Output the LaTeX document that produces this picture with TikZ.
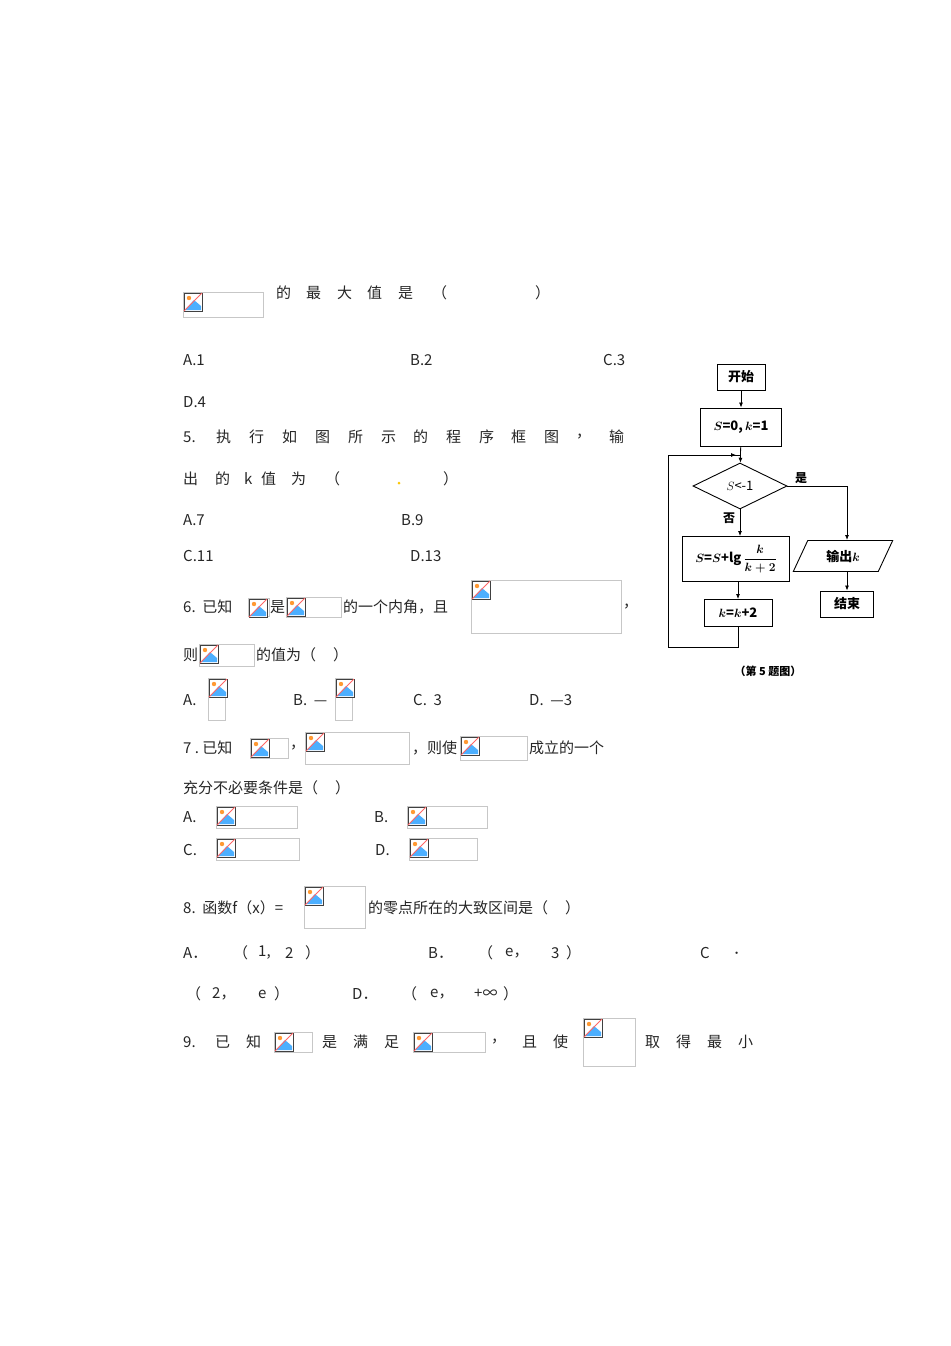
\documentclass[tikz,border=0pt]{standalone}
\usepackage{amsmath}
\usepackage{bm}
\usepackage{fontspec}
\setmainfont{Noto Sans CJK SC}
\usetikzlibrary{shapes.geometric,arrows.meta}
\newcount\tcnt
\newcommand\tx[3]{\global\advance\tcnt by 1 \node[txt] (t\the\tcnt) at (#1,#2) {#3};}
\newcommand\ph[4]{%
  \draw[black!22] (#1,#2) rectangle (#3,#4);
  \fill[white] (#1+1,#2+1) rectangle (#1+19,#2+19);
  \fill[blue!45!cyan!70] (#1+2,#2+18) -- (#1+11,#2+8) -- (#1+18,#2+14) -- (#1+18,#2+18) -- cycle;
  \fill[orange!80] (#1+6,#2+6) circle (2.2);
  \draw[black!75,line width=0.8] (#1+1,#2+1) rectangle (#1+19,#2+19);
  \draw[red!60,line width=1] (#1+1,#2+19) -- (#1+19,#2+1);}
\tikzset{txt/.style={anchor=west,inner sep=0,font=\fontsize{15pt}{17pt}\selectfont,text=black!85},
  box/.style={draw,line width=0.9pt,minimum height=26pt,font=\fontsize{13pt}{15pt}\selectfont\bfseries},
  ar/.style={-{Latex[length=5pt,width=4pt]},line width=0.8pt}}
\begin{document}
\begin{tikzpicture}[x=1pt,y=-1pt]
\useasboundingbox (0,0) rectangle (950,1346);
% Q4 tail
\ph{183}{292}{263}{317}
\foreach \c/\x in {的/276,最/306,大/337,值/367,是/398,（/432,）/535}{\tx{\x}{293}{\c}}
\tx{183}{360}{A.1}\tx{410}{360}{B.2}\tx{603}{360}{C.3}
\tx{183}{402}{D.4}
% Q5
\foreach \c/\x in {5./183,执/216,行/249,如/282,图/315,所/348,示/381,的/413,程/446,序/479,框/511,图/544,，/576,输/609}
  {\tx{\x}{437}{\c}}
\foreach \c/\x in {出/183,的/215,k/244,值/261,为/291,（/325,）/443}
  {\tx{\x}{479}{\c}}
\fill[yellow!60!orange] (399,483) circle (1.5);
\tx{183}{520}{A.7}\tx{401}{520}{B.9}
\tx{183}{556}{C.11}\tx{410}{556}{D.13}
% Q6
\tx{183}{607}{6.\ \ 已知}\ph{248}{598}{269}{616}\tx{270}{607}{是}\ph{286}{597}{341}{617}
\tx{343}{607}{的一个内角，且}\ph{471}{580}{621}{633}\tx{623}{607}{，}
\tx{183}{655}{则}\ph{199}{644}{254}{666}\tx{256}{655}{的值为（\ \ \ \ \ ）}
\tx{183}{700}{A.}\ph{208}{678}{225}{720}
\tx{293}{700}{B.\ \ —}\ph{335}{678}{352}{720}
\tx{413}{700}{C.\ \ 3}\tx{529}{700}{D.\ \ —3}
% Q7
\tx{183}{748}{7 .\ 已知}\ph{250}{738}{288}{758}\tx{290}{748}{，}\ph{305}{732}{409}{764}
\tx{412}{748}{，则使}\ph{460}{736}{527}{760}\tx{529}{748}{成立的一个}
\tx{183}{788}{充分不必要条件是（\ \ \ \ \ ）}
\tx{183}{817}{A.}\ph{216}{806}{297}{828}\tx{374}{817}{B.}\ph{407}{806}{487}{828}
\tx{183}{850}{C.}\ph{216}{838}{299}{860}\tx{375}{850}{D.}\ph{409}{838}{477}{860}
% Q8
\tx{183}{908}{8.\ \ 函数f（x）=}\ph{304}{886}{365}{928}\tx{368}{908}{的零点所在的大致区间是（\ \ \ \ \ ）}
\foreach \c/\x in {A．/183,（/233,{1,}/258,2/285,）/305}{\tx{\x}{953}{\c}}
\foreach \c/\x in {B．/428,（/478,e，/505,3/551,）/566}{\tx{\x}{953}{\c}}
\tx{700}{953}{C}\tx{733}{953}{．}
\foreach \c/\x in {（/186,2，/212,e/258,）/274}{\tx{\x}{994}{\c}}
\foreach \c/\x in {D．/352,（/402,e，/430,+∞/474,）/503}{\tx{\x}{994}{\c}}
% Q9
\foreach \c/\x in {9./183,已/215,知/246}{\tx{\x}{1042}{\c}}
\ph{274}{1032}{312}{1052}
\foreach \c/\x in {是/322,满/353,足/384}{\tx{\x}{1042}{\c}}
\ph{413}{1032}{485}{1052}
\foreach \c/\x in {，/491,且/522,使/553}{\tx{\x}{1042}{\c}}
\ph{583}{1018}{635}{1066}
\foreach \c/\x in {取/645,得/676,最/707,小/738}{\tx{\x}{1042}{\c}}
% flowchart
\node[box,minimum width=48pt] (start) at (741,377) {开始};
\node[box,minimum width=81pt,minimum height=38pt] (init) at (741,427) {$\bm{S}$=0,\,$\bm{k}$=1};
\node[draw,line width=0.9pt,diamond,aspect=2.05,minimum width=94pt,minimum height=46pt,inner sep=0,font=\fontsize{13pt}{15pt}\selectfont] (cond) at (740,486) {$S$<-1};
\node[box,minimum width=107pt,minimum height=45pt] (upd) at (736,559) {$\bm{S}$=$\bm{S}$+lg\,$\bm{\dfrac{k}{k+2}}$};
\node[box,minimum width=68pt,minimum height=27pt] (inc) at (738,613) {$\bm{k}$=$\bm{k}$+2};
\node[draw,line width=0.9pt,trapezium,trapezium left angle=65,trapezium right angle=115,minimum width=52pt,minimum height=31pt,inner sep=2pt,font=\fontsize{13pt}{15pt}\selectfont\bfseries] (out) at (843,556) {输出$\bm{k}$};
\node[box,minimum width=53pt,minimum height=26pt] (end) at (847,604) {结束};
\node[font=\fontsize{11pt}{13pt}\selectfont\bfseries] (cap) at (768,671) {（第 5 题图）};
\node[font=\fontsize{12pt}{14pt}\selectfont\bfseries,anchor=south west,inner sep=1pt] (yes) at (794,485) {是};
\node[font=\fontsize{12pt}{14pt}\selectfont\bfseries] (no) at (729,518) {否};
\coordinate (lp) at (740,455);
\coordinate (lc) at (668,455);
\draw[ar] (start) -- (init);
\draw[ar] (init) -- (cond);
\draw[ar] (cond.south) -- (cond.south |- upd.north);
\draw[ar] (upd.south -| inc.north) -- (inc);
\draw[line width=0.8pt] (inc.south) -- ++(0,20) -| (lc) -- (lp);
\draw[ar] (lc) -- ([xshift=-4pt]lp);
\draw[ar] (cond.east) -- (847,486) -- (847,540);
\draw[ar] (out.south -| end.north) -- (end);
\end{tikzpicture}
\end{document}
